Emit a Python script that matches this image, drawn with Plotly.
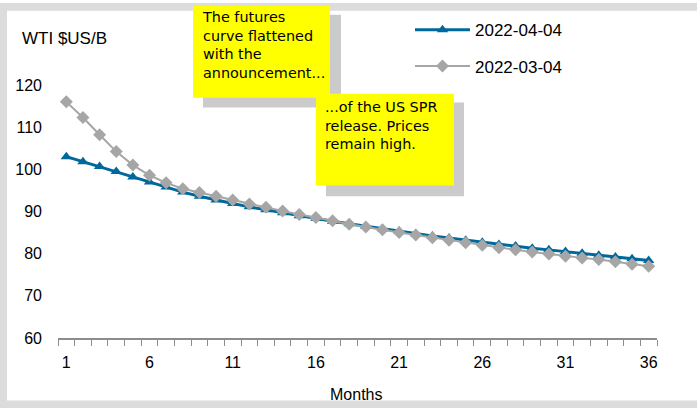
import plotly.graph_objects as go

months = list(range(1, 37))
wti_2022_04_04 = [103.0, 101.8, 100.7, 99.5, 98.2, 97.0, 95.8, 94.6, 93.6, 92.7,
                  91.9, 91.1, 90.4, 89.7, 89.0, 88.4, 87.7, 87.1, 86.5, 85.9,
                  85.3, 84.7, 84.2, 83.7, 83.2, 82.7, 82.2, 81.8, 81.3, 80.9,
                  80.5, 80.1, 79.6, 79.2, 78.8, 78.4]
wti_2022_03_04 = [116.0, 112.3, 108.2, 104.2, 101.0, 98.6, 96.8, 95.4, 94.5, 93.6,
                  92.7, 91.8, 91.0, 90.1, 89.3, 88.6, 87.8, 87.0, 86.3, 85.7,
                  85.0, 84.4, 83.8, 83.2, 82.6, 82.0, 81.4, 80.9, 80.4, 79.9,
                  79.4, 79.0, 78.6, 78.1, 77.5, 77.0]
x_tick_vals = [1, 6, 11, 16, 21, 26, 31, 36]
y_tick_vals = [60, 70, 80, 90, 100, 110, 120]
series_names = ["2022-04-04", "2022-03-04"]
y_title = "WTI $US/B"
x_title = "Months"
note1 = "The futures<br>curve flattened<br>with the<br>announcement..."
note2 = "...of the US SPR<br>release. Prices<br>remain high."

W_FIG, H_FIG = 697, 408
L, R, T, B = 58, 40, 79, 70
PW = W_FIG - L - R
PH = H_FIG - T - B


def px(x):
    return (x - L) / PW


def py(y):
    return (T + PH - y) / PH


BASE_FONT = "Liberation Sans, Arial, sans-serif"
NOTE_FONT = "Comic Sans MS, DejaVu Sans, sans-serif"
FRAME = "#dcdcdc"

fig = go.Figure()
fig.add_trace(go.Scatter(
    x=months, y=wti_2022_04_04, name=series_names[0], mode="lines+markers",
    line=dict(color="#00689c", width=3),
    marker=dict(symbol="triangle-up", size=10, color="#00689c"),
    legend="legend",
))
fig.add_trace(go.Scatter(
    x=months, y=wti_2022_03_04, name=series_names[1], mode="lines+markers",
    line=dict(color="#a6a6a6", width=2),
    marker=dict(symbol="diamond", size=10, color="#a6a6a6"),
    legend="legend2",
))


def rect(x0, y0, x1, y1, color, layer):
    return dict(type="rect", xref="paper", yref="paper", layer=layer,
                x0=px(x0), x1=px(x1), y0=py(y1), y1=py(y0),
                fillcolor=color, line=dict(width=0))


shapes = [
    rect(-5, -5, 720, 3, FRAME, "below"),
    rect(-5, -5, 7, 420, FRAME, "below"),
    rect(-5, 402, 720, 420, FRAME, "below"),
    rect(203, 7, 341, 102, "#cbcbcb", "above"),
    rect(193, -2, 330, 92, "#ffff00", "above"),
    rect(326, 97, 464, 193, "#cbcbcb", "above"),
    rect(316, 88, 454, 182, "#ffff00", "above"),
]

annotations = [
    dict(text=y_title, xref="paper", yref="paper", x=px(20), y=py(31),
         xanchor="left", yanchor="middle", showarrow=False,
         font=dict(family=BASE_FONT, size=17, color="#000")),
    dict(text=x_title, xref="paper", yref="paper", x=px(356), y=py(396),
         xanchor="center", yanchor="middle", showarrow=False,
         font=dict(family=BASE_FONT, size=16, color="#000")),
    dict(text=note1, xref="paper", yref="paper", x=px(200), y=py(38),
         xanchor="left", yanchor="middle", align="left", showarrow=False,
         font=dict(family=NOTE_FONT, size=14.4, color="#000")),
    dict(text=note2, xref="paper", yref="paper", x=px(323), y=py(120),
         xanchor="left", yanchor="middle", align="left", showarrow=False,
         font=dict(family=NOTE_FONT, size=14.4, color="#000")),
]

legend_style = dict(xanchor="left", yanchor="middle", bgcolor="rgba(0,0,0,0)",
                    font=dict(family=BASE_FONT, size=17), itemwidth=55)

fig.update_layout(
    width=W_FIG, height=H_FIG,
    margin=dict(l=L, r=R, t=T, b=B, pad=0),
    paper_bgcolor="white", plot_bgcolor="white",
    font=dict(family=BASE_FONT, size=16, color="#000"),
    shapes=shapes, annotations=annotations,
    showlegend=True,
    legend=dict(x=px(410), y=py(23), **legend_style),
    legend2=dict(x=px(410), y=py(60), **legend_style),
    xaxis=dict(range=[0.5, 36.5], tickmode="array", tickvals=x_tick_vals,
               ticktext=[str(v) for v in x_tick_vals], ticks="",
               showgrid=False, zeroline=False, showline=True,
               linecolor="#8c8c8c", linewidth=2, ticklabelstandoff=9,
               tickfont=dict(size=16),
               minor=dict(tickmode="array", tickvals=[m - 0.5 for m in months] + [36.5],
                          ticks="outside", ticklen=6, tickwidth=1,
                          tickcolor="#8c8c8c", showgrid=False)),
    yaxis=dict(range=[60, 120], tickmode="array", tickvals=y_tick_vals,
               ticks="", showgrid=False, zeroline=False, showline=False,
               ticklabelstandoff=15, tickfont=dict(size=16)),
)

fig.write_html(
    "out.html", config={"displayModeBar": False},
    post_script=("document.body.style.margin='0';"
                 "document.body.style.overflow='hidden';"
                 "document.documentElement.style.overflow='hidden';"
                 "document.body.style.background='white';"),
)
